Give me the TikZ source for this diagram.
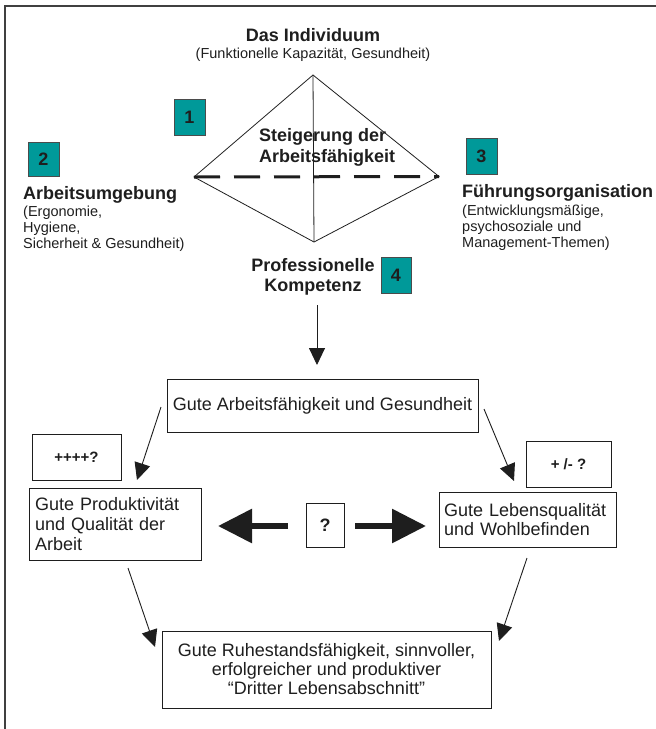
\documentclass[tikz,border=0pt]{standalone}
\usepackage{fontspec}
\setmainfont{Liberation Sans}
\usetikzlibrary{arrows.meta}
\definecolor{teal1}{RGB}{0,153,153}
\definecolor{ink}{RGB}{30,30,30}
\begin{document}
\begin{tikzpicture}[x=1pt,y=-1pt,
  box/.style={draw=ink, line width=0.9pt, inner sep=0pt, text=ink, font=\fontsize{18}{20}\selectfont},
  numbox/.style={draw=ink!80, fill=teal1, line width=0.8pt, minimum width=31pt, minimum height=35pt, inner sep=0pt, text=ink, font=\bfseries\fontsize{18}{20}\selectfont},
  head/.style={font=\bfseries\fontsize{18}{21}\selectfont, inner sep=0pt, text=ink},
  sub/.style={font=\fontsize{14.5}{16}\selectfont, inner sep=0pt, text=ink, align=left},
  conn/.style={draw=ink, line width=0.9pt, -{Triangle[length=17pt,width=16pt]}},
  bigarrow/.style={draw=ink, line width=6pt, -{Triangle[length=34pt,width=33pt]}},
]
\useasboundingbox (0,0) rectangle (656,729);
\draw[line width=1.2pt, draw=ink!85] (5,745) -- (5,6) -- (670,6);

% diamond
\coordinate (dt) at (313,75);
\coordinate (dl) at (194,177);
\coordinate (dr) at (439,176.5);
\coordinate (db) at (314,242);
\draw[draw=ink, line width=0.8pt] (dl) -- (dt) -- (dr) -- (db) -- cycle;
\draw[draw=ink, line width=0.8pt] (dt) -- (db);
\draw[draw=ink, line width=3pt, dash pattern=on 26pt off 14pt] (dl) -- (dr);

% labels
\node[head] (indiv) at (313,35) {Das Individuum};
\node[sub] (indivsub) at (313,55) {(Funktionelle Kapazität, Gesundheit)};
\node[head, anchor=west, align=left] (steig) at (259,147.5) {Steigerung der\\Arbeitsfähigkeit};
\node[head, anchor=west] (arbu) at (23,195) {Arbeitsumgebung};
\node[sub, anchor=west] (arbusub) at (23,229) {(Ergonomie,\\Hygiene,\\Sicherheit \& Gesundheit)};
\node[head, anchor=west] (fuehr) at (462,193) {Führungsorganisation};
\node[sub, anchor=west] (fuehrsub) at (462,228) {(Entwicklungsmäßige,\\psychosoziale und\\Management-Themen)};
\node[head, align=center, font=\bfseries\fontsize{18}{20}\selectfont] (prof) at (313,277) {Professionelle\\Kompetenz};

% numbered teal boxes
\node[numbox, minimum height=36pt] (n1) at (189.5,117) {1};
\node[numbox, minimum height=34pt] (n2) at (43.5,159) {2};
\node[numbox, minimum height=36pt] (n3) at (481.5,156) {3};
\node[numbox, minimum width=30pt, minimum height=36pt] (n4) at (396,275) {4};

% boxes
\node[box, minimum width=311pt, minimum height=53pt] (gute) at (322.5,405.5) {Gute Arbeitsfähigkeit und Gesundheit};
\node[box, minimum width=89pt, minimum height=46pt, font=\bfseries\fontsize{15}{17}\selectfont] (pp) at (76.5,457) {++++?};
\node[box, minimum width=85pt, minimum height=46pt, font=\bfseries\fontsize{15}{17}\selectfont] (pm) at (568.5,464) {+ /- ?};
\node[box, minimum width=172pt, minimum height=72pt, text width=160pt, align=left, inner xsep=6pt] (prod) at (115,524) {Gute Produktivität\\und Qualität der\\Arbeit};
\node[box, minimum width=177pt, minimum height=55pt, text width=167pt, align=left, inner xsep=5pt, font=\fontsize{18}{19.5}\selectfont] (leben) at (527.5,519.5) {\mbox{Gute Lebensqualität}\\und Wohlbefinden};
\node[box, minimum width=38pt, minimum height=44pt, font=\bfseries\fontsize{18}{20}\selectfont] (q) at (325,525) {?};
\node[box, minimum width=329pt, minimum height=77pt, align=center, font=\fontsize{18}{19}\selectfont] (ruhe) at (326.5,669.5) {Gute Ruhestandsfähigkeit, sinnvoller,\\erfolgreicher und produktiver\\“Dritter Lebensabschnitt”};

% connectors
\coordinate (a0s) at (317,305);
\coordinate (a0e) at (317,365);
\draw[conn] (a0s) -- (a0e);
\coordinate (a1s) at (161,407);
\coordinate (a1e) at (137,480);
\draw[conn] (a1s) -- (a1e);
\coordinate (a2s) at (484,409);
\coordinate (a2e) at (514,481);
\draw[conn] (a2s) -- (a2e);
\coordinate (a3s) at (128,568);
\coordinate (a3e) at (155,647);
\draw[conn] (a3s) -- (a3e);
\coordinate (a4s) at (527,558);
\coordinate (a4e) at (499,641);
\draw[conn] (a4s) -- (a4e);
\coordinate (b1s) at (288,526);
\coordinate (b1e) at (218,526);
\draw[bigarrow] (b1s) -- (b1e);
\coordinate (b2s) at (355,526);
\coordinate (b2e) at (426,526);
\draw[bigarrow] (b2s) -- (b2e);
\end{tikzpicture}
\end{document}
